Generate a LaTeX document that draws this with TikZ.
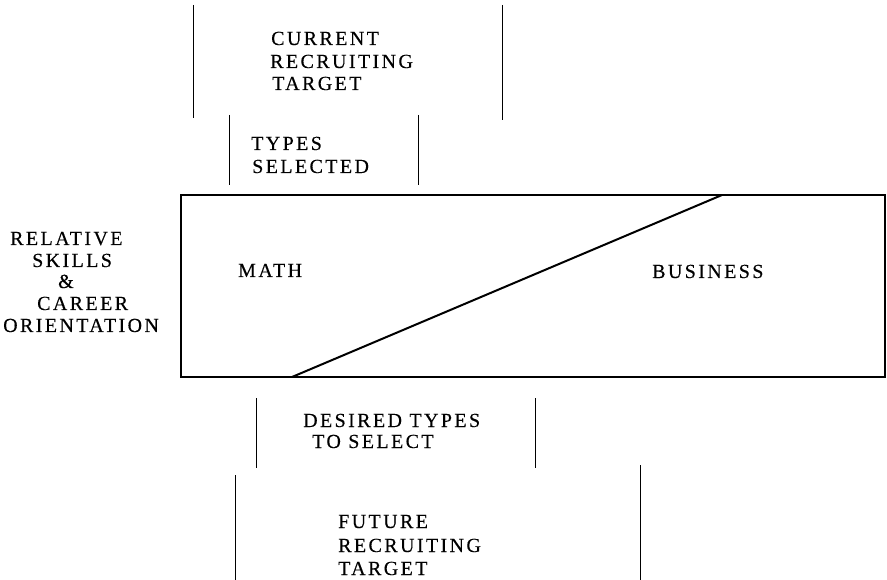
\documentclass[tikz,border=0pt]{standalone}
\usepackage{fontspec}
\setmainfont{Liberation Serif}[LetterSpace=12,FakeBold=0.3]
\begin{document}
\begin{tikzpicture}[x=1pt,y=-1pt,
  lbl/.style={anchor=base west, inner sep=0pt, font=\fontsize{20}{20}\selectfont},
  bracket/.style={line width=1pt},
  frame/.style={line width=1.5pt},
  split/.style={line width=2pt}]
\useasboundingbox (0,0) rectangle (887,580);

% skill field
\draw[frame] (181,195) rectangle (885,377);
\coordinate (lo) at (292,377);
\coordinate (hi) at (722,195);
\draw[split] (lo) -- (hi);
\node[lbl] (math) at (238,277) {MATH};
\node[lbl] (bus) at (652,278) {BUSINESS};

% axis label
\node[lbl] (r1) at (10,245) {RELATIVE};
\node[lbl] (r2) at (32,267) {SKILLS};
\node[lbl] (r3) at (58,288) {\&};
\node[lbl] (r4) at (37,310) {CAREER};
\node[lbl] (r5) at (3,332) {ORIENTATION};

% current recruiting target
\coordinate (c1a) at (193,5);   \coordinate (c1b) at (193,118);
\coordinate (c2a) at (502,5);   \coordinate (c2b) at (502,120);
\draw[bracket] (c1a) -- (c1b);
\draw[bracket] (c2a) -- (c2b);
\node[lbl] (ct1) at (271,45) {CURRENT};
\node[lbl] (ct2) at (270,68) {RECRUITING};
\node[lbl] (ct3) at (272,90) {TARGET};

% types selected
\coordinate (t1a) at (229,115); \coordinate (t1b) at (229,185);
\coordinate (t2a) at (418,115); \coordinate (t2b) at (418,185);
\draw[bracket] (t1a) -- (t1b);
\draw[bracket] (t2a) -- (t2b);
\node[lbl] (ts1) at (251,150) {TYPES};
\node[lbl] (ts2) at (252,173) {SELECTED};

% desired types
\coordinate (d1a) at (256,398); \coordinate (d1b) at (256,468);
\coordinate (d2a) at (535,398); \coordinate (d2b) at (535,468);
\draw[bracket] (d1a) -- (d1b);
\draw[bracket] (d2a) -- (d2b);
\node[lbl] (ds1) at (303,427) {DESIRED TYPES};
\node[lbl] (ds2) at (312,448) {TO SELECT};

% future recruiting target
\coordinate (f1a) at (235,475); \coordinate (f1b) at (235,580);
\coordinate (f2a) at (640,465); \coordinate (f2b) at (640,580);
\draw[bracket] (f1a) -- (f1b);
\draw[bracket] (f2a) -- (f2b);
\node[lbl] (ft1) at (338,528) {FUTURE};
\node[lbl] (ft2) at (338,552) {RECRUITING};
\node[lbl] (ft3) at (338,575) {TARGET};
\end{tikzpicture}
\end{document}
